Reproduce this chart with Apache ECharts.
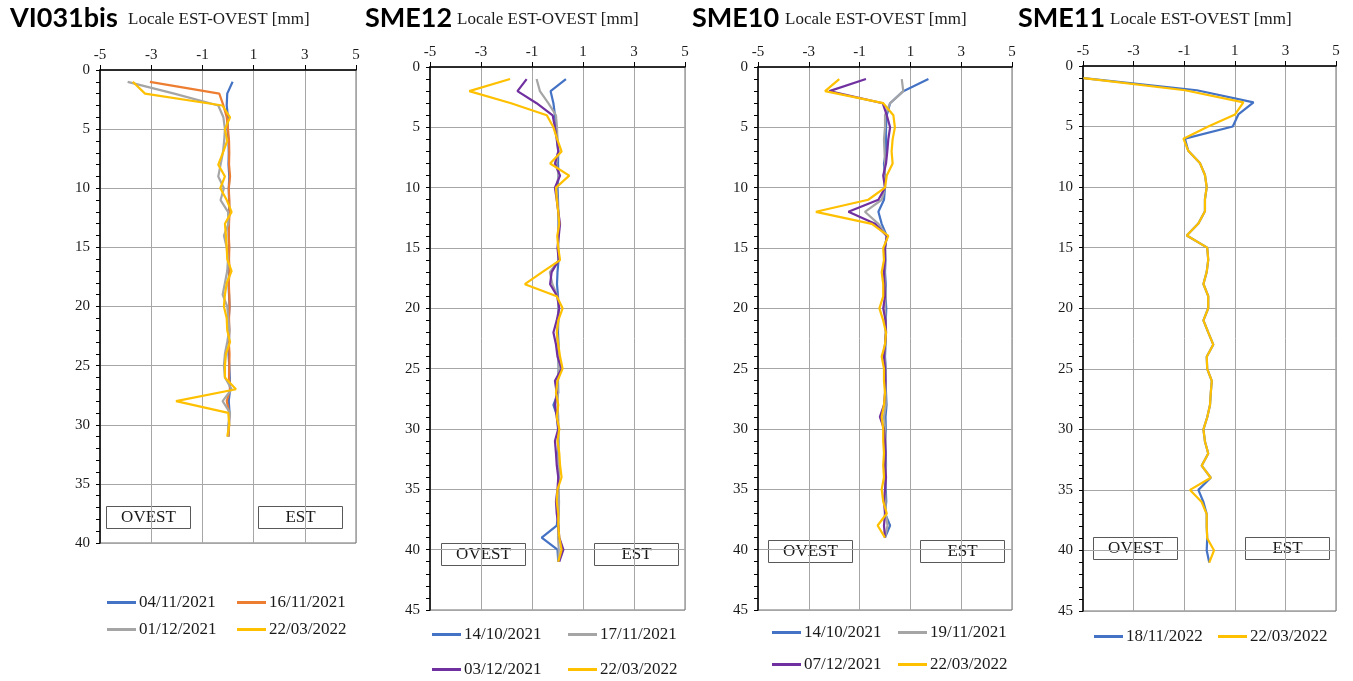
<!DOCTYPE html>
<html>
<head>
<meta charset="utf-8">
<script src="https://cdn.jsdelivr.net/npm/echarts@6/dist/echarts.min.js"></script>
<style>
  html, body { margin: 0; padding: 0; background: #fff; }
  #chart { width: 1353px; height: 681px; }
</style>
</head>
<body>
<div id="chart"></div>
<script>
// Inclinometer readings: local EST-OVEST displacement [mm] against depth [m]

// ---- VI031bis ----
const depthVI031 = [1,2,3,4,5,6,7,8,9,10,11,12,13,14,15,16,17,18,19,20,21,22,23,24,25,26,27,28,29,30,31];
const vi031_04112021 = [0.18,-0.03,-0.05,0.0,-0.02,0.02,0.03,0.02,0.05,0.03,0.04,0.05,0.02,0.03,0.04,0.03,0.05,0.02,0.04,0.06,0.03,0.05,0.04,0.02,0.05,0.07,0.08,0.03,0.06,0.04,0.02];
const vi031_16112021 = [-3.05,-0.34,-0.18,-0.05,0.0,0.04,0.05,0.04,0.08,0.03,0.05,0.06,0.04,0.03,0.05,0.04,0.06,0.03,0.05,0.06,0.04,0.05,0.03,0.06,0.05,0.04,0.08,-0.05,0.05,0.04,0.03];
const vi031_01122021 = [-3.92,-2.1,-0.38,-0.18,-0.12,-0.15,-0.2,-0.29,-0.38,-0.16,-0.29,0.0,0.02,-0.16,-0.05,0.0,-0.03,-0.12,-0.21,-0.03,0.01,0.05,-0.03,-0.12,-0.16,-0.12,0.14,-0.21,0.08,0.01,0.01];
const vi031_22032022 = [-3.72,-3.24,-0.22,0.08,-0.12,-0.03,-0.2,-0.38,-0.12,-0.3,-0.05,0.14,-0.12,-0.08,-0.05,-0.03,0.14,-0.05,-0.12,-0.16,-0.05,-0.03,0.08,-0.08,-0.12,-0.12,0.31,-2.03,0.01,0.05,-0.03];

// ---- SME12 ----
const depthSME12 = [1,2,3,4,5,6,7,8,9,10,11,12,13,14,15,16,17,18,19,20,21,22,23,24,25,26,27,28,29,30,31,32,33,34,35,36,37,38,39,40,41];
const sme12_14102021 = [0.33,-0.27,-0.16,-0.1,-0.06,-0.01,0.03,0.02,0.04,0.0,0.02,0.03,0.04,0.03,0.02,0.04,0.0,-0.02,0.02,0.04,0.03,0.02,0.04,0.03,0.05,0.02,0.03,-0.16,0.0,0.02,0.04,0.03,0.05,0.04,0.03,0.05,0.04,-0.03,-0.62,0.0,0.03];
const sme12_17112021 = [-0.82,-0.69,-0.36,-0.06,-0.02,0.0,0.03,-0.05,0.05,-0.05,0.0,0.03,0.05,0.02,0.03,0.05,-0.3,-0.2,0.0,0.05,0.03,-0.02,0.0,0.03,0.05,0.0,0.02,0.0,0.03,0.04,0.02,0.05,0.04,0.06,0.03,0.06,0.05,0.04,0.02,0.05,0.04];
const sme12_03122021 = [-1.21,-1.57,-0.82,-0.19,-0.1,-0.03,0.03,-0.1,0.1,-0.1,-0.03,0.03,0.1,0.05,0.0,0.05,-0.23,-0.29,-0.01,0.07,-0.03,-0.16,-0.06,0.0,0.16,-0.1,-0.03,-0.1,-0.03,0.03,-0.1,-0.06,-0.03,0.03,0.0,-0.06,-0.03,0.03,0.07,0.23,0.07];
const sme12_22032022 = [-1.86,-3.46,-1.82,-0.42,-0.16,-0.01,0.16,-0.29,0.46,-0.06,-0.03,0.03,0.07,-0.01,0.03,0.1,-0.6,-1.28,-0.03,0.2,0.03,-0.03,0.03,0.1,0.2,0.0,-0.06,0.03,-0.03,0.07,0.0,0.07,0.1,0.16,0.0,-0.03,0.03,0.03,0.07,0.16,0.03];

// ---- SME10 ----
const depthSME10 = [1,2,3,4,5,6,7,8,9,10,11,12,13,14,15,16,17,18,19,20,21,22,23,24,25,26,27,28,29,30,31,32,33,34,35,36,37,38,39];
const sme10_14102021 = [1.71,0.72,0.2,0.07,0.04,0.04,0.04,-0.04,0.0,0.0,-0.04,-0.26,-0.13,0.07,0.0,0.02,0.0,0.03,0.02,0.05,0.03,0.04,0.02,0.0,0.03,0.02,0.04,0.06,0.02,0.03,0.01,0.03,0.04,0.02,0.03,0.05,0.0,0.2,0.0];
const sme10_19112021 = [0.66,0.72,0.2,0.0,0.0,-0.04,-0.02,0.0,-0.02,0.0,-0.13,-0.79,-0.26,0.07,0.0,0.0,-0.02,0.0,0.02,0.0,0.02,0.03,0.0,-0.02,0.02,0.0,0.02,0.03,-0.04,0.0,0.02,0.0,0.02,0.03,0.0,0.02,0.03,0.1,0.0];
const sme10_07122021 = [-0.75,-2.19,-0.09,0.07,0.2,0.13,0.09,0.04,-0.07,0.0,-0.26,-1.44,-0.39,0.07,0.0,0.0,-0.04,-0.02,0.0,-0.07,0.02,0.04,0.0,-0.04,0.0,0.02,0.0,-0.04,-0.2,-0.04,0.0,0.02,0.0,0.04,0.0,-0.04,0.0,-0.04,0.0];
const sme10_22032022 = [-1.8,-2.36,-0.07,0.33,0.39,0.3,0.26,0.3,0.07,0.0,-0.66,-2.72,-0.52,0.13,-0.07,-0.04,-0.13,-0.07,-0.07,-0.22,-0.07,0.04,0.0,-0.13,-0.04,-0.04,0.0,-0.04,-0.13,-0.07,-0.07,-0.04,-0.07,-0.04,-0.13,-0.07,0.07,-0.29,0.0];

// ---- SME11 ----
const depthSME11 = [1,2,3,4,5,6,7,8,9,10,11,12,13,14,15,16,17,18,19,20,21,22,23,24,25,26,27,28,29,30,31,32,33,34,35,36,37,38,39,40,41];
const sme11_18112022 = [-4.98,-0.5,1.74,1.14,0.92,-0.97,-0.84,-0.38,-0.18,-0.11,-0.18,-0.18,-0.44,-0.9,-0.09,-0.05,-0.11,-0.24,-0.05,-0.05,-0.24,-0.05,0.15,-0.11,-0.09,0.09,0.05,0.02,-0.09,-0.24,-0.18,-0.05,-0.31,0.05,-0.44,-0.24,-0.11,-0.11,-0.09,-0.11,-0.01];
const sme11_22032022 = [-4.98,-0.97,1.34,1.01,-0.05,-1.03,-0.84,-0.38,-0.18,-0.11,-0.18,-0.18,-0.44,-0.9,-0.09,-0.05,-0.11,-0.24,-0.05,-0.05,-0.24,-0.05,0.15,-0.11,-0.09,0.09,0.05,0.02,-0.09,-0.24,-0.18,-0.05,-0.31,0.05,-0.77,-0.31,-0.11,-0.11,-0.09,0.18,-0.01];

// Axis tick values
const xTicks = [-5, -3, -1, 1, 3, 5];
const depthMax = [40, 45, 45, 45];

const panelTitles = ['VI031bis', 'SME12', 'SME10', 'SME11'];
const axisTitle = 'Locale EST-OVEST [mm]';

const COLORS = {
  blue: '#4472C4', orange: '#ED7D31', gray: '#A5A5A5', yellow: '#FFC000', purple: '#7030A0'
};

const panels = [
  { depth: depthVI031, series: [
    ['04/11/2021', vi031_04112021, COLORS.blue],
    ['16/11/2021', vi031_16112021, COLORS.orange],
    ['01/12/2021', vi031_01122021, COLORS.gray],
    ['22/03/2022', vi031_22032022, COLORS.yellow]]},
  { depth: depthSME12, series: [
    ['14/10/2021', sme12_14102021, COLORS.blue],
    ['17/11/2021', sme12_17112021, COLORS.gray],
    ['03/12/2021', sme12_03122021, COLORS.purple],
    ['22/03/2022', sme12_22032022, COLORS.yellow]]},
  { depth: depthSME10, series: [
    ['14/10/2021', sme10_14102021, COLORS.blue],
    ['19/11/2021', sme10_19112021, COLORS.gray],
    ['07/12/2021', sme10_07122021, COLORS.purple],
    ['22/03/2022', sme10_22032022, COLORS.yellow]]},
  { depth: depthSME11, series: [
    ['18/11/2022', sme11_18112022, COLORS.blue],
    ['22/03/2022', sme11_22032022, COLORS.yellow]]}
];

// Layout of the four plot areas
const gridBoxes = [
  { left: 100, top: 70, width: 256, height: 473 },
  { left: 430, top: 67, width: 255, height: 543 },
  { left: 758, top: 67, width: 254, height: 543 },
  { left: 1083, top: 66, width: 253, height: 545 }
];

// Legend rows: [x of first item, x of second item, y of row 1, y of row 2]
const legendPos = [
  { xs: [107, 237], ys: [604, 631] },
  { xs: [432, 568], ys: [636, 671] },
  { xs: [772, 898], ys: [634, 666] },
  { xs: [1094, 1218], ys: [638] }
];

// OVEST / EST label boxes
const sideBoxes = [
  { ovest: [106, 506], est: [258, 506] },
  { ovest: [441, 543], est: [594, 543] },
  { ovest: [768, 540], est: [920, 540] },
  { ovest: [1093, 537], est: [1245, 537] }
];
const titlePos = [[10, 128], [365, 457], [692, 785], [1018, 1110]];

const SERIF = '"Liberation Serif", "Times New Roman", serif';

const grid = [], xAxis = [], yAxis = [], series = [], legend = [], graphic = [];

panels.forEach((p, i) => {
  grid.push(Object.assign({ show: true, borderColor: '#6e6e6e', borderWidth: 1, backgroundColor: 'transparent' }, gridBoxes[i]));
  xAxis.push({
    gridIndex: i, type: 'value', position: 'top',
    min: xTicks[0], max: xTicks[xTicks.length - 1], interval: 2,
    axisLine: { show: true, onZero: false, lineStyle: { color: '#000', width: 1.5 } },
    axisTick: { show: true, length: 5, lineStyle: { color: '#000' } },
    axisLabel: { margin: 7, fontFamily: SERIF, fontSize: 15, color: '#1a1a1a' },
    splitLine: { show: true, lineStyle: { color: '#a6a6a6', width: 1 } }
  });
  yAxis.push({
    gridIndex: i, type: 'value', inverse: true,
    min: 0, max: depthMax[i], interval: 5,
    axisLine: { show: true, onZero: false, lineStyle: { color: '#000', width: 1.5 } },
    axisTick: { show: true, length: 4, lineStyle: { color: '#000' } },
    minorTick: { show: true, splitNumber: 5, length: 4, lineStyle: { color: '#000' } },
    axisLabel: { margin: 10, fontFamily: SERIF, fontSize: 15, color: '#1a1a1a' },
    splitLine: { show: true, lineStyle: { color: '#a6a6a6', width: 1 } }
  });

  p.series.forEach(([name, vals, color]) => {
    series.push({
      type: 'line', name, xAxisIndex: i, yAxisIndex: i,
      data: p.depth.map((d, k) => [vals[k], d]),
      showSymbol: false, symbol: 'none', smooth: false, animation: false,
      lineStyle: { color, width: 2.2 }, itemStyle: { color }
    });
  });

  p.series.forEach(([name], k) => {
    const lp = legendPos[i];
    legend.push({
      data: [name], left: lp.xs[k % 2], top: lp.ys[Math.floor(k / 2)] - 10,
      padding: 0, icon: 'rect', itemWidth: 29, itemHeight: 3, itemGap: 0,
      selectedMode: false,
      textStyle: { fontFamily: SERIF, fontSize: 17, color: '#1a1a1a', padding: [0, 0, 0, -2] }
    });
  });

  // Panel titles
  graphic.push({
    type: 'text', left: titlePos[i][0], top: 5,
    style: { text: panelTitles[i], font: 'bold 27px Lato, "Open Sans", sans-serif', fill: '#000' }
  });
  graphic.push({
    type: 'text', left: titlePos[i][1], top: 11,
    style: { text: axisTitle, font: '17px ' + SERIF, fill: '#1a1a1a' }
  });

  // OVEST / EST boxes
  [['OVEST', sideBoxes[i].ovest], ['EST', sideBoxes[i].est]].forEach(([label, pos]) => {
    graphic.push({
      type: 'group', left: pos[0], top: pos[1],
      children: [
        { type: 'rect', shape: { x: 0, y: 0, width: 84, height: 22 },
          style: { fill: '#fff', stroke: '#595959', lineWidth: 1 } },
        { type: 'text', x: 42, y: 11,
          style: { text: label, font: '17px ' + SERIF, fill: '#1a1a1a', align: 'center', verticalAlign: 'middle' } }
      ]
    });
  });
});

const chart = echarts.init(document.getElementById('chart'), null, { renderer: 'canvas' });
chart.setOption({
  animation: false,
  backgroundColor: '#fff',
  grid, xAxis, yAxis, series, legend, graphic
});
</script>
</body>
</html>
